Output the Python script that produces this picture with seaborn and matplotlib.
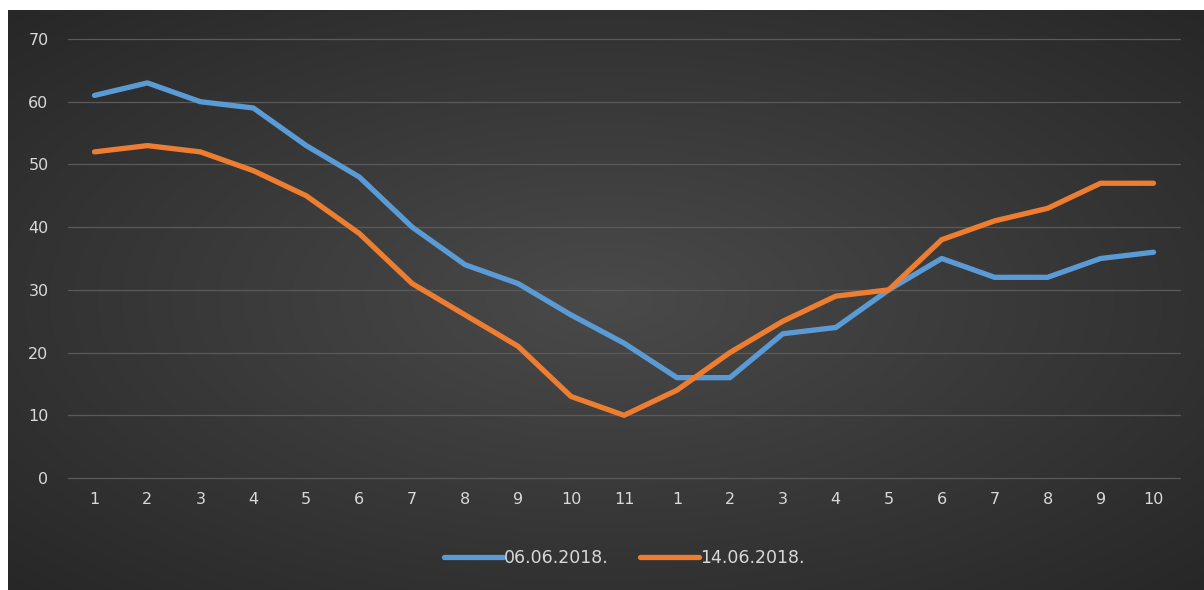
import numpy as np
import pandas as pd
import matplotlib.pyplot as plt
import seaborn as sns

x_labels = [str(i) for i in range(1, 12)] + [str(i) for i in range(1, 11)]
series_names = ["06.06.2018.", "14.06.2018."]
blue_vals = [61, 63, 60, 59, 53, 48, 40, 34, 31, 26, 21.5, 16, 16, 23, 24, 30, 35, 32, 32, 35, 36]
orange_vals = [52, 53, 52, 49, 45, 39, 31, 26, 21, 13, 10, 14, 20, 25, 29, 30, 38, 41, 43, 47, 47]
y_ticks = [0, 10, 20, 30, 40, 50, 60, 70]

colors = ["#5B9BD5", "#ED7D31"]
text_col = "#d9d9d9"

df = pd.DataFrame({
    "pos": list(range(len(x_labels))) * 2,
    "value": blue_vals + orange_vals,
    "series": [series_names[0]] * len(blue_vals) + [series_names[1]] * len(orange_vals),
})

sns.set_theme(style="dark")
plt.rcParams["font.family"] = ["DejaVu Sans"]

fig = plt.figure(figsize=(12.04, 5.90), dpi=100, facecolor="white")

# radial gradient background
bg = fig.add_axes([8 / 1204, 0, 1 - 8 / 1204, 1 - 10 / 590])
yy, xx = np.mgrid[-1:1:300j, -1:1:600j]
r = np.sqrt(xx ** 2 + yy ** 2)
grad = np.clip(1 - r / 1.45, 0, 1)
shade = 0.15 + 0.14 * grad
img = np.dstack([shade, shade, shade])
bg.imshow(img, aspect="auto", extent=[0, 1, 0, 1], interpolation="bicubic")
bg.set_axis_off()

ax = fig.add_axes([68 / 1204, 112 / 590, (1180 - 68) / 1204, (478 - 39) / 590])
ax.set_facecolor("none")
sns.lineplot(data=df, x="pos", y="value", hue="series", palette=colors,
             linewidth=3.8, ax=ax, legend=True, solid_capstyle="round")

ax.set_ylim(0, 70)
ax.set_xlim(-0.5, len(x_labels) - 0.5)
ax.set_yticks(y_ticks)
ax.set_xticks(range(len(x_labels)))
ax.set_xticklabels(x_labels)
ax.yaxis.grid(True, color="#5a5a5a", linewidth=0.9)
ax.xaxis.grid(False)
for gl in ax.get_ygridlines():
    gl.set_clip_on(False)
for s in ax.spines.values():
    s.set_visible(False)
ax.tick_params(axis="both", colors=text_col, labelsize=11.5, length=0)
ax.tick_params(axis="x", pad=10)
ax.tick_params(axis="y", pad=14)
ax.set_xlabel("")
ax.set_ylabel("")

leg = ax.legend(loc="upper center", bbox_to_anchor=(0.5, -0.126), ncol=2,
                frameon=False, handlelength=3.4, handletextpad=0.05,
                columnspacing=1.8, fontsize=12.5)
for t in leg.get_texts():
    t.set_color(text_col)
for h in leg.get_lines():
    h.set_linewidth(3.8)
    h.set_solid_capstyle("round")

fig.savefig("out.png", dpi=100, facecolor=fig.get_facecolor())
